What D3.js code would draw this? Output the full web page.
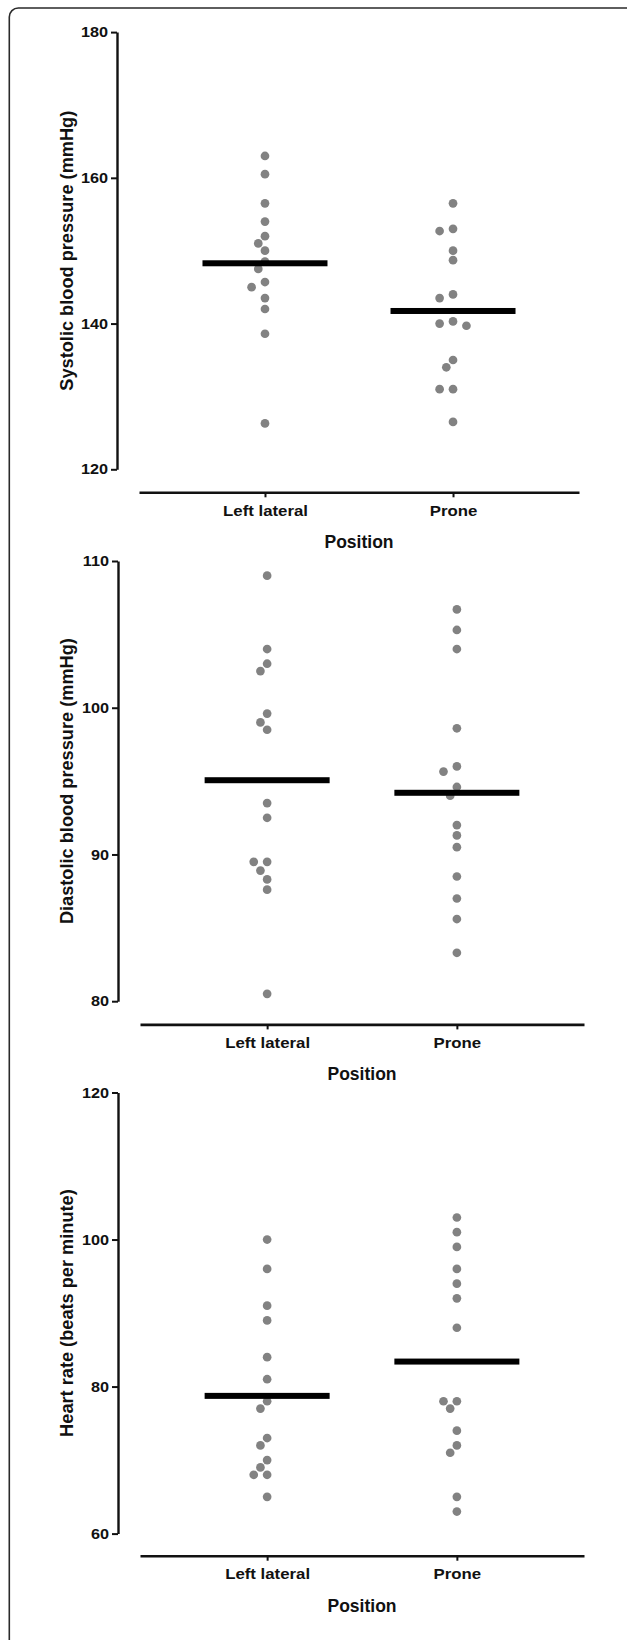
<!DOCTYPE html>
<html>
<head>
<meta charset="utf-8">
<script src="https://cdn.jsdelivr.net/npm/d3@7"></script>
<style>
  html, body { margin: 0; padding: 0; background: #fff; }
  svg { display: block; }
  text { font-family: "Liberation Sans", Arial, Helvetica, sans-serif; font-weight: bold; fill: #111; }
</style>
</head>
<body>
<svg id="chart" width="627" height="1640"></svg>
<script>
// ---------------- Data ----------------
const categories = ["Left lateral", "Prone"];
const xTitle = "Position";

const sbpLeft  = [163.0, 160.5, 156.5, 154.0, 152.0, 151.0, 150.0, 148.5, 147.5, 145.7, 145.0, 143.5, 142.0, 138.6, 126.3];
const sbpProne = [156.5, 153.0, 152.7, 150.0, 148.7, 144.0, 143.5, 140.3, 140.0, 139.7, 135.0, 134.0, 131.0, 131.0, 126.5];
const sbpTicks = [120, 140, 160, 180];
const sbpTitle = "Systolic blood pressure (mmHg)";

const dbpLeft  = [109.0, 104.0, 103.0, 102.5, 99.6, 99.0, 98.5, 93.5, 92.5, 89.5, 89.5, 88.9, 88.3, 87.6, 80.5];
const dbpProne = [106.7, 105.3, 104.0, 98.6, 96.0, 95.65, 94.6, 94.0, 92.0, 91.3, 90.5, 88.5, 87.0, 85.6, 83.3];
const dbpTicks = [80, 90, 100, 110];
const dbpTitle = "Diastolic blood pressure (mmHg)";

const hrLeft  = [100, 96, 91, 89, 84, 81, 78, 77, 73, 72, 70, 69, 68, 68, 65];
const hrProne = [103, 101, 99, 96, 94, 92, 88, 78, 78, 77, 74, 72, 71, 65, 63];
const hrTicks = [60, 80, 100, 120];
const hrTitle = "Heart rate (beats per minute)";

const panelsData = [
  { series: [sbpLeft, sbpProne], ticks: sbpTicks, title: sbpTitle },
  { series: [dbpLeft, dbpProne], ticks: dbpTicks, title: dbpTitle },
  { series: [hrLeft, hrProne], ticks: hrTicks, title: hrTitle }
];

// ---------------- Layout ----------------
const layout = [
  { axisX: 117, yTop: 32.1, yBot: 469.3, xAxisY: 492.3, xRange: [139, 579] },
  { axisX: 118, yTop: 561.0, yBot: 1001.2, xAxisY: 1024.4, xRange: [140, 584] },
  { axisX: 118, yTop: 1092.5, yBot: 1533.6, xAxisY: 1555.7, xRange: [140, 584] }
];

const stretch = 1.12;        // horizontal widening of the original artwork's text
const dotR = 4.35;
const dotStep = 6.7;
const dotColor = "#828282";
const meanHalf = 62.5;
const meanThick = 6;

const svg = d3.select("#chart");

// frame (rounded top-left corner, open to right/bottom)
svg.append("path")
  .attr("d", "M9.3,1640 V17 A9,9 0 0 1 18.3,8 H627")
  .attr("fill", "none")
  .attr("stroke", "#2a2a2a")
  .attr("stroke-width", 1.6);

function beeswarm(values, y) {
  const placed = [];
  const thr = 2 * dotR + 0.6;
  const cands = [0, -1, 1, -2, 2, -3, 3, -4, 4];
  return values.map(v => {
    const py = y(v);
    let off = 0;
    for (const c of cands) {
      const px = c * dotStep;
      const ok = placed.every(p => Math.hypot(p.x - px, p.y - py) >= thr);
      if (ok) { off = px; break; }
    }
    placed.push({ x: off, y: py });
    return { v, dx: off };
  });
}

panelsData.forEach((pd, i) => {
  const L = layout[i];
  const g = svg.append("g");
  const y = d3.scaleLinear()
    .domain([d3.min(pd.ticks), d3.max(pd.ticks)])
    .range([L.yBot, L.yTop]);
  const x = d3.scalePoint().domain(categories).range(L.xRange).padding(0.67);

  // y axis
  const ya = g.append("g")
    .attr("transform", `translate(${L.axisX},0)`)
    .call(d3.axisLeft(y).tickValues(pd.ticks).tickSize(6).tickSizeOuter(0).tickPadding(2).tickFormat(d3.format("d")));
  ya.select(".domain").attr("stroke", "#111").attr("stroke-width", 2.4);
  ya.selectAll(".tick line").attr("stroke", "#111").attr("stroke-width", 2);
  ya.selectAll(".tick text")
    .attr("fill", "#111")
    .attr("transform", `scale(${stretch},1)`)
    .style("font-size", "14.5px")
    .style("font-family", "'Liberation Sans', Arial, sans-serif")
    .style("font-weight", "bold");

  // x axis
  const xa = g.append("g")
    .attr("transform", `translate(0,${L.xAxisY})`)
    .call(d3.axisBottom(x).tickSize(5).tickSizeOuter(0).tickPadding(8));
  xa.select(".domain").attr("stroke", "#111").attr("stroke-width", 2.6);
  xa.selectAll(".tick line").attr("stroke", "#111").attr("stroke-width", 2);
  xa.selectAll(".tick text")
    .attr("fill", "#111")
    .attr("transform", `scale(${stretch},1)`)
    .style("font-size", "15px")
    .style("font-family", "'Liberation Sans', Arial, sans-serif")
    .style("font-weight", "bold");

  // y title
  g.append("text")
    .attr("transform", `translate(72.5,${(L.yTop + L.yBot) / 2}) rotate(-90) scale(1.04,1)`)
    .attr("text-anchor", "middle")
    .style("font-size", "17.5px")
    .text(pd.title);

  // x title
  g.append("text")
    .attr("x", (L.xRange[0] + L.xRange[1]) / 2)
    .attr("y", L.xAxisY + 56)
    .attr("text-anchor", "middle")
    .style("font-size", "17.5px")
    .text(xTitle);

  // dots + mean bars
  pd.series.forEach((vals, k) => {
    const cx = x(categories[k]);
    const pts = beeswarm(vals, y);
    g.append("g").selectAll("circle").data(pts).join("circle")
      .attr("cx", d => cx + d.dx)
      .attr("cy", d => y(d.v))
      .attr("r", dotR)
      .attr("fill", dotColor);
    const m = d3.mean(vals);
    g.append("rect")
      .attr("x", cx - meanHalf)
      .attr("y", y(m) - meanThick / 2)
      .attr("width", meanHalf * 2)
      .attr("height", meanThick)
      .attr("fill", "#000");
  });
});
</script>
</body>
</html>
